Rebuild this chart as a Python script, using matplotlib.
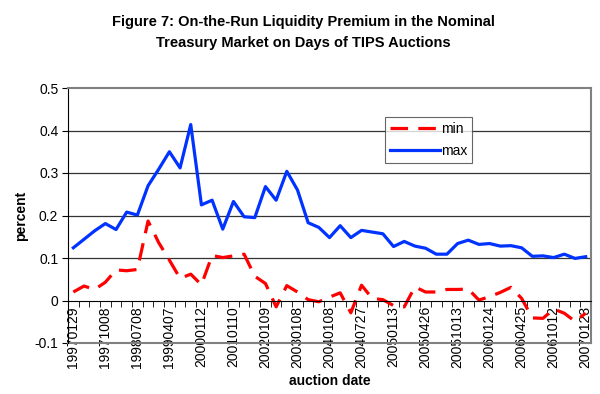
import matplotlib.pyplot as plt
import numpy as np

plt.rcParams['font.family'] = ['Liberation Sans', 'DejaVu Sans']

# auction dates (category axis)
dates = ["19970129", "19970408", "19970708", "19971008", "19980108", "19980408",
         "19980708", "19981007", "19990106", "19990407", "19990707", "19991006",
         "20000112", "20000712", "20001011", "20010110", "20010711", "20011010",
         "20020109", "20020710", "20021008", "20030108", "20030709", "20031015",
         "20040108", "20040426", "20040712", "20040727", "20041006", "20041027",
         "20050113", "20050125", "20050412", "20050426", "20050714", "20050726",
         "20051013", "20051026", "20060112", "20060124", "20060412", "20060420",
         "20060425", "20060713", "20060725", "20061012", "20061024", "20070110",
         "20070123"]

min_vals = [0.020, 0.034, 0.026, 0.043, 0.072, 0.070, 0.073, 0.187, 0.136, 0.095,
            0.052, 0.062, 0.037, 0.106, 0.101, 0.105, 0.109, 0.057, 0.040, -0.015,
            0.035, 0.020, 0.002, -0.003, 0.008, 0.018, -0.029, 0.036, 0.005, 0.002,
            -0.012, -0.015, 0.032, 0.020, 0.020, 0.026, 0.026, 0.027, 0.001, 0.009,
            0.019, 0.031, 0.005, -0.041, -0.042, -0.020, -0.030, -0.049, -0.030]

max_vals = [0.124, 0.144, 0.164, 0.181, 0.167, 0.208, 0.201, 0.270, 0.309, 0.350,
            0.312, 0.414, 0.225, 0.236, 0.168, 0.233, 0.197, 0.195, 0.268, 0.236,
            0.304, 0.260, 0.183, 0.172, 0.148, 0.176, 0.148, 0.165, 0.161, 0.157,
            0.127, 0.139, 0.128, 0.123, 0.109, 0.109, 0.134, 0.142, 0.132, 0.134,
            0.128, 0.129, 0.124, 0.104, 0.105, 0.101, 0.109, 0.099, 0.103]

fig = plt.figure(figsize=(6, 3.94), dpi=100)
ax = fig.add_axes([68/600, 51/394, 523/600, 255/394])

x = np.arange(len(dates))
ax.plot(x, min_vals, color='#ff0000', lw=2.3, linestyle=(0, (5.5, 3.2)), label='min')
ax.plot(x, max_vals, color='#0033ff', lw=2.3, label='max')

ax.set_xlim(-0.5, len(dates) - 0.5)
ax.set_ylim(-0.1, 0.5)

# grid lines
for g in [0.1, 0.2, 0.3, 0.4]:
    ax.axhline(g, color='#333333', lw=0.9, zorder=0)

# plot area border
for s in ['top', 'right']:
    ax.spines[s].set_color('#808080')
    ax.spines[s].set_linewidth(1.5)
ax.axhline(-0.1, color='#808080', lw=1.5, clip_on=False)
ax.spines['left'].set_color('black')
ax.spines['bottom'].set_position(('data', 0))
ax.spines['bottom'].set_color('black')

ax.set_yticks([-0.1, 0, 0.1, 0.2, 0.3, 0.4, 0.5])
ax.set_yticklabels(['-0.1', '0', '0.1', '0.2', '0.3', '0.4', '0.5'])
ax.tick_params(axis='y', direction='out', length=4, labelsize=10, pad=3)

ax.set_xticks(x[::3])
ax.set_xticklabels(dates[::3], rotation=90)
ax.set_xticks(np.arange(-0.5, len(dates) + 0.5), minor=True)
ax.tick_params(axis='x', which='major', length=0, labelsize=10, pad=4)
ax.tick_params(axis='x', which='minor', direction='out', length=4)

ax.set_ylabel('percent', fontsize=10, fontweight='bold', labelpad=5)
fig.text(0.55, 1 - 381/394, 'auction date', ha='center', va='center',
         fontsize=10, fontweight='bold')

fig.text(0.505, 1 - 15/394, 'Figure 7: On-the-Run Liquidity Premium in the Nominal\n'
         'Treasury Market on Days of TIPS Auctions', ha='center', va='top',
         fontsize=10.5, fontweight='bold', linespacing=1.6)

leg = ax.legend(loc='upper left', bbox_to_anchor=(0.606, 0.885), fontsize=10,
                frameon=True, fancybox=False, handlelength=3.6, borderpad=0.35,
                labelspacing=0.55, handletextpad=0.1, borderaxespad=0)
leg.get_frame().set_edgecolor('#404040')
leg.get_frame().set_linewidth(0.8)

fig.savefig('out.png', dpi=100)
